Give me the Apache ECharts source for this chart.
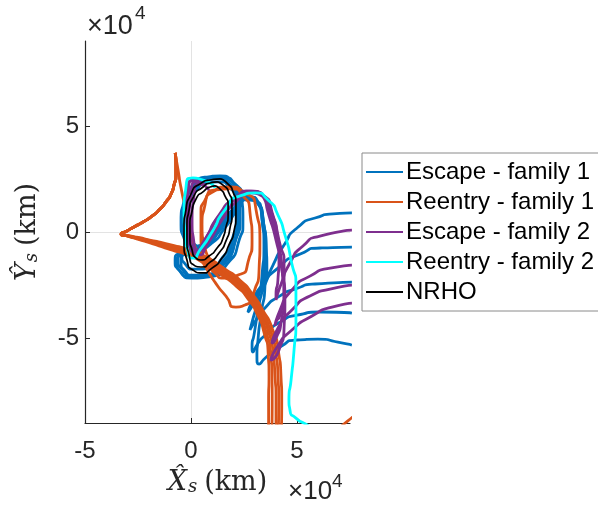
<!DOCTYPE html>
<html>
<head>
<meta charset="utf-8">
<script src="https://cdn.jsdelivr.net/npm/echarts@6/dist/echarts.min.js"></script>
<style>
  html, body { margin: 0; padding: 0; background: #ffffff; }
  #chart { width: 598px; height: 506px; }
</style>
</head>
<body>
<div id="chart"></div>
<script>
// Axes (values in units of 10^4 km)
const xRange = [-5, 7.5];
const yRange = [-9, 9];
const xTicks = [-5, 0, 5];
const yTicks = [-5, 0, 5];

const legendNames = ['Escape - family 1', 'Reentry - family 1', 'Escape - family 2', 'Reentry - family 2', 'NRHO'];

// Escape - family 1 trajectories [Xs, Ys]
const escape1A = [[0.42,-0.85],[-0.14,-0.38],[-0.33,0.57],[-0.19,1.51],[0.19,2.22],[0.75,2.59],[1.37,2.64],[1.93,2.36],[2.26,1.70],[2.31,0.66],[2.08,-0.47],[1.56,-1.42],[0.80,-1.98],[0.09,-2.03],[-0.42,-1.75],[-0.61,-1.32],[-0.38,-0.94],[0.19,-0.80],[0.80,-0.47],[1.46,0.28],[2.12,1.13],[2.74,1.65],[3.16,1.37],[3.40,0.57],[3.54,-0.61],[3.58,-1.79],[3.44,-2.59],[3.35,-2.83],[3.54,-2.36],[3.87,-1.56],[4.39,-0.61],[5.00,0.19],[5.85,0.66],[6.70,0.85],[7.59,0.90]];
const escape1B = [[0.56,-0.94],[0.00,-0.47],[-0.19,0.48],[-0.05,1.42],[0.33,2.13],[0.89,2.50],[1.51,2.55],[2.07,2.27],[2.40,1.61],[2.45,0.57],[2.22,-0.56],[1.70,-1.51],[0.94,-2.07],[0.23,-2.12],[-0.28,-1.84],[-0.47,-1.41],[-0.24,-1.03],[0.33,-0.89],[0.94,-0.56],[1.60,0.19],[2.22,1.08],[2.78,1.65],[3.16,1.42],[3.40,0.57],[3.49,-0.61],[3.44,-1.79],[3.16,-2.97],[2.83,-3.58],[2.69,-3.77],[2.92,-3.21],[3.35,-2.50],[4.10,-1.70],[5.05,-1.08],[6.18,-0.75],[7.59,-0.71]];
const escape1C = [[0.28,-0.90],[-0.28,-0.43],[-0.47,0.52],[-0.33,1.46],[0.05,2.17],[0.61,2.54],[1.23,2.59],[1.79,2.31],[2.12,1.65],[2.17,0.61],[1.94,-0.52],[1.42,-1.47],[0.66,-2.03],[-0.05,-2.08],[-0.56,-1.80],[-0.75,-1.37],[-0.52,-0.99],[0.05,-0.85],[0.66,-0.52],[1.32,0.23],[1.98,1.08],[2.69,1.65],[3.11,1.42],[3.35,0.57],[3.44,-0.61],[3.35,-2.03],[3.11,-3.35],[2.88,-4.25],[2.78,-4.62],[3.07,-4.15],[3.49,-3.58],[4.10,-3.07],[4.91,-2.69],[5.85,-2.45],[7.59,-2.36]];
const escape1D = [[0.47,-0.71],[-0.02,-0.30],[-0.19,0.54],[-0.07,1.36],[0.27,1.99],[0.76,2.31],[1.31,2.36],[1.80,2.11],[2.09,1.53],[2.13,0.61],[1.93,-0.38],[1.47,-1.22],[0.81,-1.73],[0.18,-1.75],[-0.27,-1.51],[-0.43,-1.13],[-0.23,-0.79],[0.27,-0.67],[0.81,-0.38],[1.39,0.28],[1.97,1.03],[2.50,1.51],[3.02,1.46],[3.35,0.66],[3.49,-0.85],[3.40,-2.26],[3.16,-3.68],[2.97,-4.86],[2.88,-5.38],[2.92,-5.66],[3.16,-5.24],[3.49,-4.86],[4.20,-4.25],[5.00,-3.92],[6.08,-3.77],[7.59,-3.82]];
const escape1E = [[0.37,-0.99],[-0.19,-0.52],[-0.38,0.43],[-0.24,1.37],[0.14,2.08],[0.70,2.45],[1.32,2.50],[1.88,2.22],[2.21,1.56],[2.26,0.52],[2.03,-0.61],[1.51,-1.56],[0.75,-2.12],[0.04,-2.17],[-0.47,-1.89],[-0.66,-1.46],[-0.43,-1.08],[0.14,-0.94],[0.75,-0.61],[1.41,0.14],[2.07,0.99],[2.59,1.65],[3.07,1.42],[3.40,0.61],[3.54,-0.85],[3.49,-2.50],[3.30,-3.92],[3.16,-5.09],[3.11,-5.85],[3.21,-6.23],[3.54,-5.90],[4.20,-5.42],[5.00,-5.09],[5.99,-5.05],[6.93,-5.19],[7.59,-5.33]];

// Reentry - family 1 trajectories
const reentry1Main = [[1.13,-1.42],[0.66,-0.75],[0.52,0.33],[0.66,1.27],[1.04,1.89],[1.75,2.12],[2.55,1.84],[3.07,1.04],[3.25,-0.38],[3.21,-1.79],[2.97,-2.83],[2.55,-3.44],[2.12,-3.54],[1.65,-3.02],[1.13,-2.36],[0.66,-1.60],[0.28,-0.94],[0.00,0.00],[-0.24,1.04],[-0.47,2.08],[-0.61,2.92],[-0.75,3.72],[-0.71,3.16],[-0.71,2.69],[-0.80,2.22],[-0.94,1.79],[-1.18,1.42],[-1.46,1.08],[-1.84,0.75],[-2.26,0.47],[-2.69,0.24],[-3.02,0.05],[-3.30,-0.09],[-2.95,-0.19],[-2.17,-0.38],[-0.99,-0.71],[-0.05,-0.99],[0.66,-1.32],[1.46,-1.84],[2.22,-2.41],[2.78,-3.02],[3.25,-3.77],[3.63,-4.62],[3.87,-5.66],[3.96,-6.75],[4.01,-7.92],[4.01,-9.34]];
const reentry1Ring = [[0.71,-1.42],[0.47,-0.38],[0.47,0.80],[0.71,1.60],[1.18,1.98],[1.84,2.03],[2.45,1.70],[2.78,0.94],[2.88,-0.38],[2.69,-1.42],[2.22,-2.03],[1.60,-2.17],[1.08,-1.89],[0.71,-1.42]];
const reentry1BandA = [[-0.75,3.72],[-0.71,3.16],[-0.71,2.69],[-0.80,2.22],[-0.94,1.79],[-1.18,1.42],[-1.46,1.08],[-1.84,0.75],[-2.26,0.47],[-2.69,0.24],[-3.02,0.05],[-3.30,-0.09],[-2.95,-0.21],[-2.19,-0.43],[-1.03,-0.81],[-0.11,-1.11],[0.58,-1.45],[1.38,-1.98],[2.13,-2.55],[2.68,-3.14],[3.12,-3.87],[3.44,-4.72],[3.64,-5.72],[3.68,-6.78],[3.66,-7.92],[3.66,-9.34]];
const reentry1BandB = [[-0.75,3.72],[-0.71,3.16],[-0.71,2.69],[-0.80,2.22],[-0.94,1.79],[-1.18,1.42],[-1.46,1.08],[-1.84,0.75],[-2.26,0.47],[-2.69,0.24],[-3.02,0.05],[-3.30,-0.09],[-2.95,-0.20],[-2.18,-0.40],[-1.01,-0.76],[-0.08,-1.05],[0.62,-1.38],[1.42,-1.91],[2.18,-2.48],[2.73,-3.08],[3.19,-3.82],[3.53,-4.67],[3.75,-5.69],[3.82,-6.76],[3.83,-7.92],[3.81,-9.34]];
const reentry1BandC = [[-0.75,3.72],[-0.71,3.16],[-0.71,2.69],[-0.80,2.22],[-0.94,1.79],[-1.18,1.42],[-1.46,1.08],[-1.84,0.75],[-2.26,0.47],[-2.69,0.24],[-3.02,0.05],[-3.30,-0.09],[-2.95,-0.18],[-2.16,-0.36],[-0.97,-0.66],[-0.02,-0.93],[0.70,-1.26],[1.50,-1.77],[2.26,-2.34],[2.83,-2.96],[3.31,-3.72],[3.72,-4.57],[3.99,-5.63],[4.10,-6.74],[4.14,-7.92],[4.11,-9.34]];
const reentry1BandD = [[-0.75,3.72],[-0.71,3.16],[-0.71,2.69],[-0.80,2.22],[-0.94,1.79],[-1.18,1.42],[-1.46,1.08],[-1.84,0.75],[-2.26,0.47],[-2.69,0.24],[-3.02,0.05],[-3.30,-0.09],[-2.95,-0.17],[-2.15,-0.33],[-0.95,-0.61],[0.01,-0.87],[0.74,-1.19],[1.54,-1.70],[2.31,-2.27],[2.88,-2.90],[3.38,-3.67],[3.82,-4.52],[4.12,-5.60],[4.24,-6.72],[4.28,-7.92],[4.26,-9.34]];
const reentry1Corner = [[6.80,-9.40],[7.40,-8.90],[7.90,-8.50]];

// Escape - family 2 trajectories
const escape2A = [[0.57,2.17],[0.14,2.45],[-0.14,1.84],[-0.24,0.66],[-0.09,-0.47],[0.19,-0.94],[0.61,-0.42],[1.32,0.80],[2.08,1.60],[2.78,1.93],[3.44,1.70],[3.82,0.94],[4.06,-0.14],[4.15,-1.23],[4.10,-2.26],[4.01,-2.97],[4.01,-3.21],[4.25,-2.45],[4.67,-1.46],[5.28,-0.66],[6.08,-0.19],[7.59,0.09]];
const escape2B = [[0.71,2.17],[0.28,2.36],[0.00,1.75],[-0.09,0.57],[0.00,-0.52],[0.28,-0.90],[0.71,-0.28],[1.46,0.94],[2.22,1.65],[2.88,1.93],[3.35,1.70],[3.82,0.85],[4.15,-0.38],[4.39,-1.70],[4.39,-2.97],[4.20,-3.92],[4.01,-4.25],[3.96,-4.43],[4.20,-3.68],[4.76,-2.74],[5.61,-2.08],[6.56,-1.70],[7.59,-1.56]];
const escape2C = [[0.47,2.26],[0.05,2.41],[-0.19,1.70],[-0.19,0.47],[0.00,-0.66],[0.33,-1.08],[0.80,-0.52],[1.46,0.57],[2.12,1.42],[2.78,1.84],[3.25,1.75],[3.73,0.90],[4.06,-0.38],[4.29,-1.70],[4.39,-3.11],[4.25,-4.25],[4.01,-5.00],[3.82,-5.24],[4.10,-4.53],[4.76,-3.68],[5.61,-3.02],[6.56,-2.69],[7.59,-2.50]];
const escape2D = [[0.85,1.98],[0.42,2.26],[0.14,1.70],[0.05,0.57],[0.14,-0.52],[0.42,-0.85],[0.90,-0.19],[1.60,0.94],[2.31,1.65],[2.97,1.89],[3.44,1.60],[3.63,0.94],[4.01,-0.38],[4.29,-1.79],[4.43,-3.21],[4.39,-4.53],[4.15,-5.57],[3.77,-6.04],[4.06,-5.42],[4.76,-4.62],[5.71,-3.96],[6.65,-3.54],[7.59,-3.35]];

// Reentry - family 2 trajectory
const reentry2A = [[1.13,2.08],[0.57,2.45],[0.09,2.55],[-0.24,2.08],[-0.33,1.04],[-0.28,-0.14],[-0.14,-0.94],[0.09,-1.23],[0.42,-0.85],[0.99,0.00],[1.60,1.04],[2.31,1.70],[3.02,1.84],[3.63,1.51],[4.10,0.80],[4.43,-0.14],[4.72,-1.32],[4.95,-2.74],[4.95,-4.15],[4.86,-5.57],[4.72,-6.98],[4.62,-7.92],[4.67,-8.40],[4.95,-8.77],[5.42,-9.06],[5.80,-9.30]];

// NRHO revolutions
const nrhoA = [[1.23,2.36],[1.56,2.17],[1.79,1.84],[1.93,1.37],[1.93,0.80],[1.84,0.19],[1.65,-0.42],[1.32,-0.99],[0.90,-1.42],[0.47,-1.65],[0.14,-1.56],[-0.09,-1.08],[-0.19,-0.47],[-0.19,0.28],[-0.09,1.04],[0.14,1.70],[0.57,2.12],[0.90,2.31],[1.23,2.36]];
const nrhoB = [[1.13,2.17],[1.42,1.98],[1.60,1.70],[1.75,1.27],[1.75,0.80],[1.65,0.24],[1.51,-0.28],[1.23,-0.75],[0.85,-1.13],[0.47,-1.32],[0.24,-1.23],[0.05,-0.85],[-0.05,-0.33],[-0.05,0.33],[0.05,0.99],[0.24,1.56],[0.61,1.93],[0.90,2.12],[1.13,2.17]];
const nrhoC = [[1.37,2.50],[1.75,2.26],[1.98,1.89],[2.12,1.37],[2.12,0.71],[2.03,0.05],[1.79,-0.61],[1.46,-1.23],[0.99,-1.70],[0.52,-1.93],[0.09,-1.79],[-0.19,-1.32],[-0.33,-0.61],[-0.33,0.24],[-0.24,1.04],[0.00,1.79],[0.42,2.26],[0.90,2.45],[1.37,2.50]];

const COLORS = {
  escape1: '#0072BD',
  reentry1: '#D95319',
  escape2: '#7E2F8E',
  reentry2: '#00FFFF',
  nrho: '#000000'
};

function traj(name, color, width, data) {
  return {
    type: 'line',
    name: name,
    data: data,
    smooth: 0.8,
    symbol: 'none',
    silent: true,
    clip: true,
    lineStyle: { color: color, width: width },
    itemStyle: { color: color }
  };
}

const series = [];
[escape1A, escape1B, escape1C, escape1D, escape1E].forEach(d => series.push(traj(legendNames[0], COLORS.escape1, 2.8, d)));
[reentry1Main, reentry1Ring, reentry1BandA, reentry1BandB, reentry1BandC, reentry1BandD, reentry1Corner].forEach(d => series.push(traj(legendNames[1], COLORS.reentry1, 2.8, d)));
[escape2A, escape2B, escape2C, escape2D].forEach(d => series.push(traj(legendNames[2], COLORS.escape2, 2.8, d)));
[reentry2A].forEach(d => series.push(traj(legendNames[3], COLORS.reentry2, 2.8, d)));
[nrhoA, nrhoB, nrhoC].forEach(d => series.push(traj(legendNames[4], COLORS.nrho, 1.7, d)));

const axisColor = '#262626';
const sansFont = '"Liberation Sans", Arial, Helvetica, sans-serif';
const serifFont = '"DejaVu Serif", "Liberation Serif", serif';

const nameRich = {
  v: { fontFamily: serifFont, fontStyle: 'italic', fontSize: 27, color: axisColor },
  s: { fontFamily: serifFont, fontStyle: 'italic', fontSize: 18, color: axisColor, verticalAlign: 'bottom', padding: [0, 7, 0, 1] },
  u: { fontFamily: serifFont, fontSize: 27, color: axisColor }
};

const chart = echarts.init(document.getElementById('chart'), null, { renderer: 'canvas' });
chart.setOption({
  animation: false,
  backgroundColor: '#ffffff',
  grid: { left: 85, top: 41, width: 265, height: 382, containLabel: false },
  xAxis: {
    type: 'value',
    min: xRange[0], max: xRange[1], interval: 5,
    axisLine: { onZero: false, lineStyle: { color: axisColor, width: 1.2 } },
    axisTick: { inside: true, length: 5, customValues: xTicks, lineStyle: { color: axisColor } },
    axisLabel: { customValues: xTicks, margin: 16, fontSize: 24, fontFamily: sansFont, color: axisColor },
    splitLine: { show: true, showMinLine: false, showMaxLine: false, lineStyle: { color: '#e3e3e3', width: 1 } },
    name: '{v|X\u0302}{s|s}{u|(km)}',
    nameLocation: 'middle',
    nameGap: 46,
    nameTextStyle: { rich: nameRich }
  },
  yAxis: {
    type: 'value',
    min: yRange[0], max: yRange[1], splitNumber: 3,
    axisLine: { onZero: false, lineStyle: { color: axisColor, width: 1.2 } },
    axisTick: { inside: true, length: 5, customValues: yTicks, lineStyle: { color: axisColor } },
    axisLabel: { customValues: yTicks, margin: 6, fontSize: 24, fontFamily: sansFont, color: axisColor },
    splitLine: { show: true, showMinLine: false, showMaxLine: false, lineStyle: { color: '#e3e3e3', width: 1 } },
    name: '{v|Y\u0302}{s|s}{u|(km)}',
    nameLocation: 'middle',
    nameGap: 44,
    nameTextStyle: { rich: nameRich }
  },
  legend: {
    data: legendNames,
    orient: 'vertical',
    left: 362,
    top: 153,
    padding: [7, 12, 7, 4],
    itemGap: 6,
    icon: 'rect',
    itemWidth: 37,
    itemHeight: 2,
    borderColor: '#8a8a8a',
    borderWidth: 1,
    backgroundColor: '#ffffff',
    selectedMode: false,
    textStyle: { fontSize: 24, fontFamily: sansFont, color: '#000000', padding: [0, 0, 0, -2] }
  },
  graphic: [
    { type: 'text', x: 87, y: 13, style: { text: '\u00d710', font: '27px ' + sansFont, fill: axisColor, verticalAlign: 'top' } },
    { type: 'text', x: 135, y: 4, style: { text: '4', font: '19px ' + sansFont, fill: axisColor, verticalAlign: 'top' } },
    { type: 'text', x: 288, y: 479, style: { text: '\u00d710', font: '26px ' + sansFont, fill: axisColor, verticalAlign: 'top' } },
    { type: 'text', x: 332, y: 472, style: { text: '4', font: '19px ' + sansFont, fill: axisColor, verticalAlign: 'top' } }
  ],
  series: series
});
</script>
</body>
</html>
